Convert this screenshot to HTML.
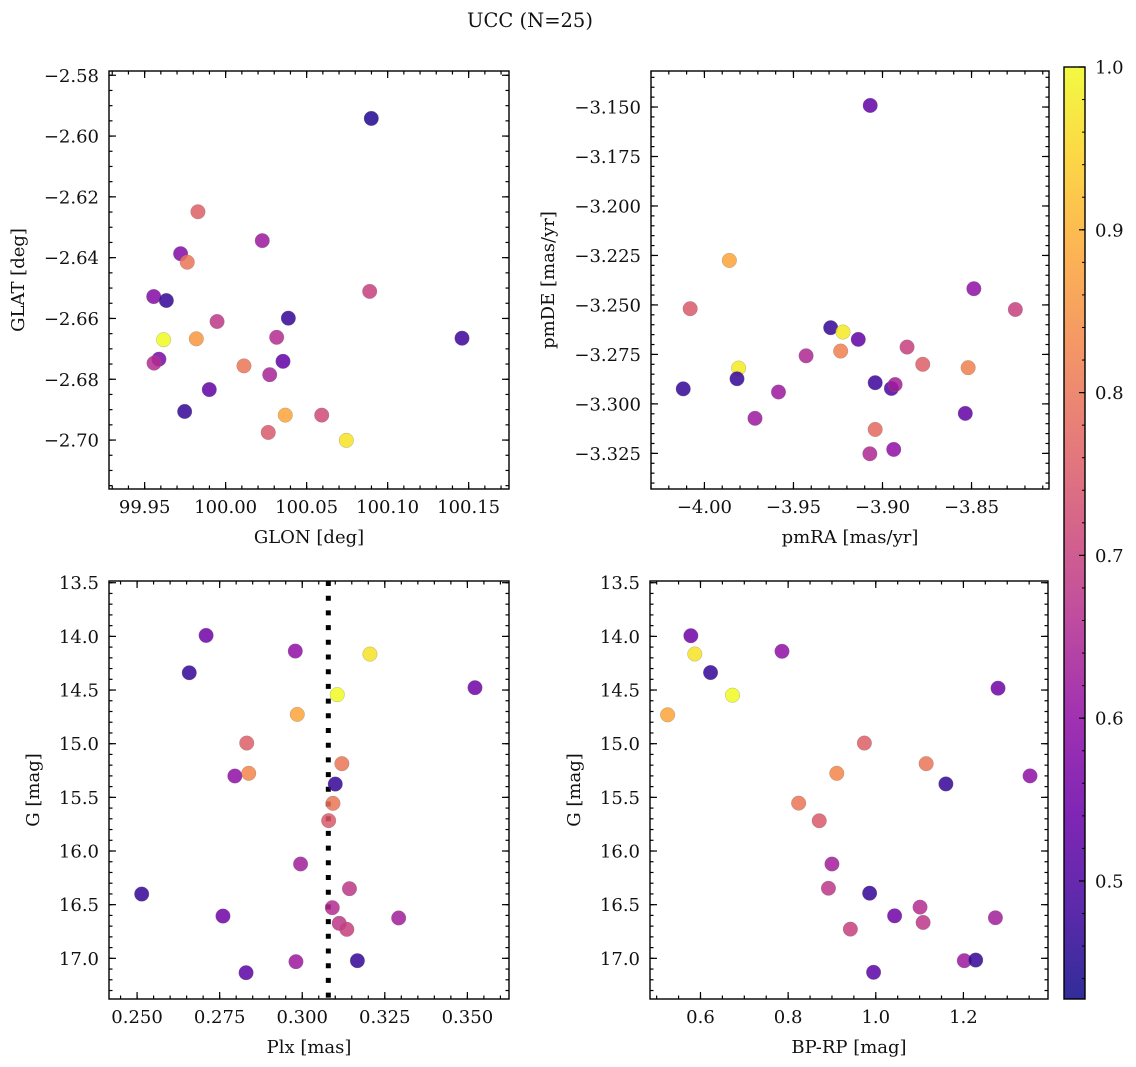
<!DOCTYPE html>
<html><head><meta charset="utf-8">
<style>
html,body{margin:0;padding:0;background:#fff;}
svg{display:block;font-family:"DejaVu Serif","Liberation Serif",serif;}
</style></head>
<body>
<svg id="fig" width="1136" height="1067" viewBox="0 0 1136 1067" xmlns="http://www.w3.org/2000/svg">
<defs><linearGradient id="cbgrad" x1="0" y1="1" x2="0" y2="0"></linearGradient></defs>
<rect x="0" y="0" width="1136" height="1067" fill="#fff"/>
<text x="530" y="27" font-size="19.5" text-anchor="middle" fill="#111">UCC (N=25)</text>
</svg>
<script>
// ---- Panel 1: GLON vs GLAT ----
const glonX = [100.0899,99.9829,100.0226,99.9722,99.9763,99.9556,99.9634,100.0889,99.9947,100.0387,99.9617,99.9819,100.0315,99.9588,99.9558,100.0113,100.0354,100.1459,100.0272,99.9899,99.9747,100.0368,100.0593,100.0263,100.0745];
const glatY = [-2.5942,-2.6249,-2.6344,-2.6387,-2.6415,-2.6528,-2.6541,-2.6511,-2.661,-2.6599,-2.667,-2.6667,-2.6662,-2.6734,-2.6747,-2.6756,-2.6741,-2.6665,-2.6785,-2.6834,-2.6906,-2.6918,-2.6918,-2.6975,-2.7001];
const p1C = [0.45,0.76,0.62,0.58,0.80,0.58,0.47,0.70,0.68,0.47,1.0,0.86,0.66,0.57,0.66,0.80,0.53,0.48,0.64,0.53,0.47,0.88,0.72,0.75,0.97];
const p1XTicks = [99.95,100.00,100.05,100.10,100.15];
const p1YTicks = [-2.58,-2.60,-2.62,-2.64,-2.66,-2.68,-2.70];
// ---- Panel 2: pmRA vs pmDE ----
const pmraX = [-3.9069,-3.986,-4.008,-3.8487,-3.8254,-3.9291,-3.9222,-3.9136,-3.9808,-3.8862,-3.9235,-3.9429,-3.8774,-3.9817,-4.0119,-3.9041,-3.895,-3.8929,-3.9584,-3.8519,-3.9716,-3.8535,-3.9041,-3.9071,-3.8937];
const pmdeY = [-3.1492,-3.2275,-3.2519,-3.2418,-3.2523,-3.2615,-3.2637,-3.2674,-3.2819,-3.2713,-3.2733,-3.2757,-3.28,-3.2873,-3.2924,-3.2893,-3.2922,-3.2902,-3.294,-3.2817,-3.3073,-3.3048,-3.3129,-3.3252,-3.323];
const p2C = [0.53,0.88,0.75,0.60,0.70,0.47,0.98,0.53,0.98,0.70,0.82,0.65,0.76,0.47,0.47,0.48,0.50,0.63,0.62,0.82,0.62,0.53,0.78,0.65,0.60];
const p2XTicks = [-4.00,-3.95,-3.90,-3.85];
const p2YTicks = [-3.150,-3.175,-3.200,-3.225,-3.250,-3.275,-3.300,-3.325];
// ---- Panel 3: Plx vs G ----
const plxX = [0.2709,0.2979,0.3205,0.2658,0.3523,0.3106,0.2985,0.2832,0.312,0.2838,0.2796,0.31,0.3093,0.308,0.2995,0.3143,0.2514,0.3091,0.276,0.3292,0.3112,0.3135,0.2981,0.3167,0.283];
const gY3 = [13.991,14.137,14.165,14.339,14.478,14.543,14.727,14.994,15.186,15.276,15.301,15.376,15.556,15.717,16.121,16.351,16.401,16.528,16.606,16.624,16.674,16.73,17.031,17.022,17.134];
const p3C = [0.55,0.60,0.97,0.47,0.55,1.0,0.88,0.76,0.80,0.83,0.60,0.47,0.80,0.75,0.63,0.68,0.47,0.66,0.55,0.63,0.68,0.70,0.62,0.47,0.52];
const plxMean = [0.3079];
const p3XTicks = [0.250,0.275,0.300,0.325,0.350];
const gTicks = [13.5,14.0,14.5,15.0,15.5,16.0,16.5,17.0];
// ---- Panel 4: BP-RP vs G ----
const bprpX = [0.578,0.587,0.623,0.786,0.673,0.525,1.279,0.974,1.115,0.911,1.352,1.16,0.824,0.871,0.9,0.892,0.986,1.101,1.043,1.273,1.108,0.942,1.202,1.228,0.995];
const gY4 = [13.994,14.164,14.337,14.139,14.548,14.731,14.483,14.994,15.186,15.276,15.30,15.375,15.554,15.718,16.121,16.347,16.393,16.523,16.604,16.622,16.666,16.728,17.022,17.016,17.13];
const p4C = [0.55,0.97,0.47,0.60,1.0,0.88,0.55,0.76,0.80,0.83,0.60,0.47,0.80,0.75,0.63,0.68,0.47,0.66,0.55,0.63,0.68,0.70,0.62,0.47,0.52];
const p4XTicks = [0.6,0.8,1.0,1.2];
// ---- Colorbar ----
const cbTicks = [0.5,0.6,0.7,0.8,0.9,1.0];
const cbMin = 0.4275, cbMax = 1.0;

const NS = "http://www.w3.org/2000/svg";
const svg = document.getElementById('fig');
function mk(tag, attrs, parent){const e=document.createElementNS(NS,tag);for(const k in attrs)e.setAttribute(k,attrs[k]);(parent||svg).appendChild(e);return e;}

const plasma = ["#0d0887","#41049d","#6a00a8","#8f0da4","#b12a90","#cc4778","#e16462","#f2844b","#fca636","#fcce25","#f0f921"];
function hex(h){return [parseInt(h.substr(1,2),16),parseInt(h.substr(3,2),16),parseInt(h.substr(5,2),16)];}
function cmap(v){let t=(v-cbMin)/(cbMax-cbMin);t=Math.max(0,Math.min(1,t));const f=t*10;const i=Math.min(9,Math.floor(f));const r=f-i;const a=hex(plasma[i]),b=hex(plasma[i+1]);return `rgb(${Math.round(a[0]+(b[0]-a[0])*r)},${Math.round(a[1]+(b[1]-a[1])*r)},${Math.round(a[2]+(b[2]-a[2])*r)})`;}
function fmt(v,d){const s=Math.abs(v).toFixed(d);return (v<0?"\u2212":"")+s;}

function panel(o){
  const g=mk('g',{});
  
  
  const sx=v=>o.L+(v-o.x0)/(o.x1-o.x0)*(o.R-o.L);
  const sy=v=>o.T+(o.y1-v)/(o.y1-o.y0)*(o.B-o.T);
  const syI=v=>o.T+(v-o.y0)/(o.y1-o.y0)*(o.B-o.T);
  const Y=o.inv?syI:sy;
  mk('rect',{x:o.L,y:o.T,width:o.R-o.L,height:o.B-o.T,fill:'#fff'},g);
  const tk=mk('g',{stroke:'#000','stroke-width':1.2},g);
  
  
  const lo=Math.min(o.x0,o.x1), hi=Math.max(o.x0,o.x1);
  for(let k=Math.ceil(lo/o.xm-1e-6);k*o.xm<=hi+1e-9;k++){const x=sx(k*o.xm);mk('line',{x1:x,x2:x,y1:o.B,y2:o.B-3.5},tk);mk('line',{x1:x,x2:x,y1:o.T,y2:o.T+3.5},tk);}
  const ylo=Math.min(o.y0,o.y1), yhi=Math.max(o.y0,o.y1);
  for(let k=Math.ceil(ylo/o.ym-1e-6);k*o.ym<=yhi+1e-9;k++){const y=Y(k*o.ym);mk('line',{x1:o.L,x2:o.L+3.5,y1:y,y2:y},tk);mk('line',{x1:o.R,x2:o.R-3.5,y1:y,y2:y},tk);}
  o.xt.forEach(v=>{const x=sx(v);mk('line',{x1:x,x2:x,y1:o.B,y2:o.B-7},tk);mk('line',{x1:x,x2:x,y1:o.T,y2:o.T+7},tk);
    const t=mk('text',{x:x,y:o.B+24,'font-size':18,'text-anchor':'middle',fill:'#111'},g);t.textContent=fmt(v,o.xd);
    
    });
  o.yt.forEach(v=>{const y=Y(v);mk('line',{x1:o.L,x2:o.L+7,y1:y,y2:y},tk);mk('line',{x1:o.R,x2:o.R-7,y1:y,y2:y},tk);
    const t=mk('text',{x:o.L-10,y:y+6.5,'font-size':18,'text-anchor':'end',fill:'#111'},g);t.textContent=fmt(v,o.yd);
    
    });
  if(o.vline){o.vline.forEach(v=>{const x=sx(v);const l=mk('line',{x1:x,x2:x,y1:o.T,y2:o.B,stroke:'#000','stroke-width':5,'stroke-dasharray':'5,9.7'},g);
    
    });}
  o.xs.forEach((v,i)=>{const c=mk('circle',{cx:sx(v),cy:Y(o.ys[i]),r:7.3,fill:cmap(o.cs[i]),'fill-opacity':0.85,stroke:'#777','stroke-opacity':0.5,'stroke-width':0.5},g);
    
    });
  const fr=mk('rect',{x:o.L,y:o.T,width:o.R-o.L,height:o.B-o.T,fill:'none',stroke:'#000','stroke-width':1.4},g);
  
  
  const xl=mk('text',{x:(o.L+o.R)/2,y:o.B+54,'font-size':18,'text-anchor':'middle',fill:'#111'},g);xl.textContent=o.xlab;
  
  
  const yl=mk('text',{x:0,y:0,'font-size':18,'text-anchor':'middle',fill:'#111',transform:`translate(${o.ylx},${(o.T+o.B)/2}) rotate(-90)`},g);yl.textContent=o.ylab;
  
  
}

panel({name:'glon-glat-panel',L:109,R:509,T:71,B:489,x0:99.928,x1:100.1749,y0:-2.7161,y1:-2.5786,xm:0.01,ym:0.005,xt:p1XTicks,yt:p1YTicks,xd:2,yd:2,xs:glonX,ys:glatY,cs:p1C,xlab:'GLON [deg]',ylab:'GLAT [deg]',ylx:24});
panel({name:'pm-panel',L:651,R:1049,T:71,B:489,x0:-4.030,x1:-3.8065,y0:-3.343,y1:-3.1318,xm:0.01,ym:0.005,xt:p2XTicks,yt:p2YTicks,xd:2,yd:3,xs:pmraX,ys:pmdeY,cs:p2C,xlab:'pmRA [mas/yr]',ylab:'pmDE [mas/yr]',ylx:554});
panel({name:'plx-g-panel',L:109,R:509,T:581,B:999,x0:0.2415,x1:0.3626,y0:13.484,y1:17.379,inv:true,xm:0.005,ym:0.1,xt:p3XTicks,yt:gTicks,xd:3,yd:1,xs:plxX,ys:gY3,cs:p3C,xlab:'Plx [mas]',ylab:'G [mag]',ylx:39,vline:plxMean});
panel({name:'cmd-panel',L:650,R:1048,T:581,B:999,x0:0.4848,x1:1.393,y0:13.484,y1:17.379,inv:true,xm:0.05,ym:0.1,xt:p4XTicks,yt:gTicks,xd:1,yd:1,xs:bprpX,ys:gY4,cs:p4C,xlab:'BP-RP [mag]',ylab:'G [mag]',ylx:580});

// colorbar
(function(){
  const grad=document.getElementById('cbgrad');
  for(let i=0;i<=20;i++){const v=cbMin+(cbMax-cbMin)*i/20;mk('stop',{offset:(i*5)+'%','stop-color':cmap(v),'stop-opacity':0.85},grad);}
  const L=1064,R=1085,T=67,B=999;
  const g=mk('g',{});
  
  
  mk('rect',{x:L,y:T,width:R-L,height:B-T,fill:'url(#cbgrad)'},g);
  const sy=v=>B-(v-cbMin)/(cbMax-cbMin)*(B-T);
  for(let k=Math.ceil(cbMin/0.02);k*0.02<=cbMax+1e-9;k++){const y=sy(k*0.02);mk('line',{x1:R,x2:R-3,y1:y,y2:y,stroke:'#000','stroke-width':1},g);}
  cbTicks.forEach(v=>{const y=sy(v);mk('line',{x1:R,x2:R-6,y1:y,y2:y,stroke:'#000','stroke-width':1.2},g);
    const t=mk('text',{x:R+10,y:y+6.5,'font-size':18,fill:'#111'},g);t.textContent=v.toFixed(1);
    
    });
  mk('rect',{x:L,y:T,width:R-L,height:B-T,fill:'none',stroke:'#000','stroke-width':1.4},g);
})();
</script>
</body></html>
